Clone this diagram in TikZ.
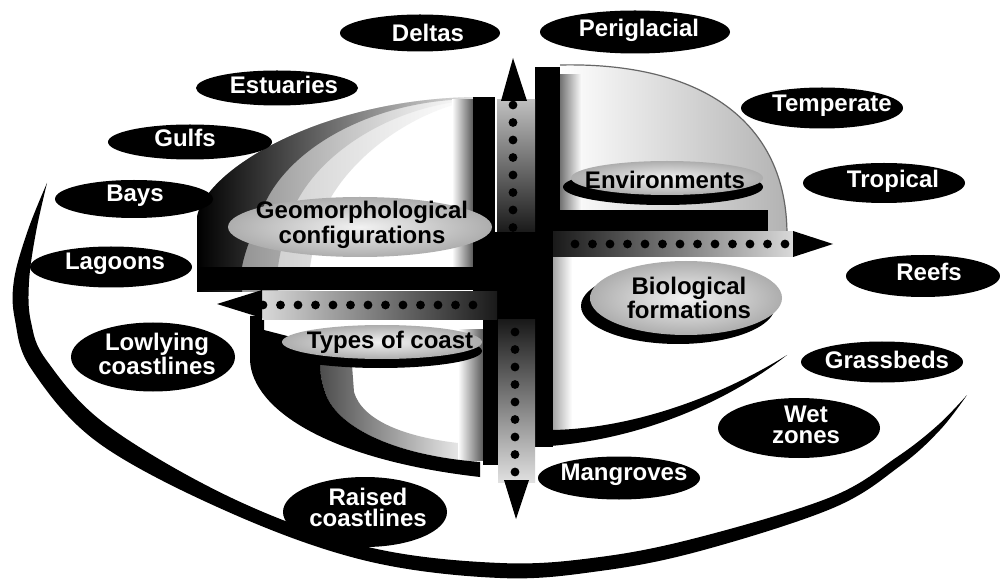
\documentclass[tikz,border=0pt]{standalone}
\usepackage{fontspec}
\setmainfont{Liberation Sans}
\begin{document}
\begin{tikzpicture}[x=0.5pt,y=-0.5pt,
  lab/.style={text=white, font=\bfseries\fontsize{12}{10.5}\selectfont, align=center, inner sep=0pt},
  inlab/.style={text=black, font=\bfseries\fontsize{12}{10.5}\selectfont, align=center, inner sep=0pt},
  blob/.style={fill=black},
  pill/.style={inner color=black!5, outer color=black!32},
  bar/.style={fill=black},
  tdot/.style={fill=black}]
\useasboundingbox (0,0) rectangle (1000,582);
\fill[white] (0,0) rectangle (1000,582);

% ---------- outer rim of the disc ----------
\fill[black] plot[smooth, tension=0.6] coordinates {(47,183) (28,230) (14,280) (15,320) (32,370) (100,444) (233,514) (367,561) (500,578) (600,571) (700,551) (833,508) (900,466) (940,430) (967,395)}
 -- plot[smooth, tension=0.6] coordinates {(967,395) (938,425) (897,457) (831,497) (700,537) (600,557) (500,563) (368,547) (236,500) (108,426) (47,361) (31,322) (29,282) (36,232) (47,183)} -- cycle;

% ---------- top-left quadrant ----------
\shade[left color=black!25, right color=white] (197,292) -- (197,217) .. controls (205,170) and (320,100) .. (473,97) -- (473,100) .. controls (410,112) and (345,160) .. (322,215) .. controls (315,235) and (312,255) .. (310,267) -- (310,292) -- cycle;
\shade[left color=black!50, right color=white] (197,292) -- (197,217) .. controls (205,170) and (320,100) .. (473,97) -- (473,100) .. controls (390,106) and (315,155) .. (292,212) .. controls (284,235) and (280,252) .. (278,267) -- (278,292) -- cycle;
\shade[left color=black, right color=black!12] (197,292) -- (197,217) .. controls (205,170) and (320,100) .. (473,97) -- (473,99) .. controls (370,100) and (285,150) .. (262,210) .. controls (252,235) and (245,250) .. (242,267) -- (242,292) -- cycle;
\shade[left color=white, right color=black!65] (452,100) rectangle (473,267);
\fill[bar] (473,97) rectangle (495,292);
\fill[bar] (197,267) rectangle (497,290);
\shade[pill] (360,227) ellipse [x radius=66pt, y radius=15pt];

% ---------- top-right quadrant ----------
\shade[left color=white, right color=black!30] (560,65) .. controls (700,62) and (787,120) .. (787,235) -- (560,235) -- cycle;
\draw[black!60, line width=0.6pt] (560,65) .. controls (700,62) and (787,120) .. (787,235);
\shade[left color=black!55, right color=white] (560,75) rectangle (582,210);
\fill[bar] (535,67) rectangle (560,235);
\fill[bar] (535,210) rectangle (768,232);
\fill[blob] (663,187) ellipse [x radius=50pt, y radius=9pt];
\shade[pill] (667,178) ellipse [x radius=48pt, y radius=8.5pt];

% ---------- bottom-right quadrant ----------
\shade[left color=black!35, right color=white] (553,257) rectangle (572,432);
\fill[bar] (535,257) rectangle (553,447);
\fill[bar] (535,430) -- (535,447) .. controls (640,442) and (730,400) .. (787,355) .. controls (728,392) and (640,428) .. (553,430) -- cycle;
\fill[blob] (678,306) ellipse [x radius=48.5pt, y radius=19pt];
\shade[pill] (686,298) ellipse [x radius=48pt, y radius=18.5pt];

% ---------- bottom-left quadrant ----------
\shade[left color=black!70, right color=white] (320,365) .. controls (320,372) and (321,380) .. (325,392) .. controls (335,425) and (390,455) .. (480,462) -- (480,445) .. controls (405,440) and (362,420) .. (354,392) -- (352,365) -- cycle;
\shade[left color=white, right color=black!65] (458,330) rectangle (483,460);
\fill[bar] (250,316) -- (250,360) .. controls (252,410) and (330,460) .. (480,477) -- (480,462) .. controls (390,455) and (335,425) .. (325,392) .. controls (321,380) and (320,372) .. (320,365) -- (322,345) -- (264,330) -- (264,316) -- cycle;
\fill[bar] (483,320) rectangle (498,465);
\fill[blob] (380,351) ellipse [x radius=51pt, y radius=8.5pt];
\shade[pill] (382,342) ellipse [x radius=50pt, y radius=8.5pt];

% ---------- arrow bands ----------
\shade[top color=black!25, bottom color=black!90] (497,100) rectangle (535,232);
\fill[bar] (495,232) rectangle (553,320);
\shade[top color=black!90, bottom color=black!12] (498,320) rectangle (535,482);
\shade[left color=black!90, right color=black!15] (553,232) rectangle (793,257);
\shade[left color=black!15, right color=black!90] (262,292) rectangle (497,320);

\foreach \y in {105,122.5,...,228} \fill[tdot] (513,\y) circle [radius=2.2pt];
\foreach \y in {332,349.5,...,473} \fill[tdot] (515,\y) circle [radius=2.2pt];
\foreach \x in {575,592.5,...,787} \fill[tdot] (\x,244) circle [radius=2.2pt];
\foreach \x in {263,280.5,...,482} \fill[tdot] (\x,305) circle [radius=2.2pt];

\coordinate (upT) at (513,58);  \coordinate (upL) at (501,101); \coordinate (upR) at (527,101);
\coordinate (dnT) at (516,519); \coordinate (dnL) at (504,480); \coordinate (dnR) at (529,480);
\coordinate (rtT) at (833,244); \coordinate (rtU) at (793,231); \coordinate (rtD) at (793,257);
\coordinate (lfT) at (217,304); \coordinate (lfU) at (262,290); \coordinate (lfD) at (262,318);
\fill (upT) -- (upL) -- (upR) -- cycle;
\fill (dnT) -- (dnL) -- (dnR) -- cycle;
\fill (rtT) -- (rtU) -- (rtD) -- cycle;
\fill (lfT) -- (lfU) -- (lfD) -- cycle;

% ---------- inner labels ----------
\node[inlab] (geo) at (362,225) {Geomorphological\\configurations};
\node[inlab] (env) at (665,180) {Environments};
\node[inlab] (bio) at (689,298) {Biological\\formations};
\node[inlab] (typ) at (390,342) {Types of coast};

% ---------- outer labels ----------
\fill[blob] (420,33) ellipse [x radius=40pt, y radius=9.25pt];
\fill[blob] (277,88) ellipse [x radius=40.5pt, y radius=8.75pt];
\fill[blob] (190,142) ellipse [x radius=41pt, y radius=8.75pt];
\fill[blob] (134,199) ellipse [x radius=39.5pt, y radius=9.5pt];
\fill[blob] (111,267) ellipse [x radius=40.5pt, y radius=10.25pt];
\fill[blob] (635,32) ellipse [x radius=47.5pt, y radius=10.75pt];
\fill[blob] (822,108) ellipse [x radius=40.5pt, y radius=10.25pt];
\fill[blob] (884,183) ellipse [x radius=40.5pt, y radius=10pt];
\fill[blob] (923,276) ellipse [x radius=38.5pt, y radius=10.5pt];
\fill[blob] (882,362) ellipse [x radius=40.5pt, y radius=10.25pt];
\fill[blob] (799,428) ellipse [x radius=40.5pt, y radius=15pt];
\fill[blob] (619,478) ellipse [x radius=40.5pt, y radius=10.75pt];
\fill[blob] (153,357) ellipse [x radius=41pt, y radius=17.25pt];
\fill[blob] (365,512) ellipse [x radius=41pt, y radius=17.5pt];

\node[lab] (deltas) at (428,33) {Deltas};
\node[lab] (estuaries) at (284,85) {Estuaries};
\node[lab] (gulfs) at (185,138) {Gulfs};
\node[lab] (bays) at (135,196) {Bays};
\node[lab] (lagoons) at (115,264) {Lagoons};
\node[lab] (peri) at (639,30) {Periglacial};
\node[lab] (temp) at (832,106) {Temperate};
\node[lab] (trop) at (893,181) {Tropical};
\node[lab] (reefs) at (929,272) {Reefs};
\node[lab] (grass) at (887,360) {Grassbeds};
\node[lab] (wet) at (806,425) {Wet\\zones};
\node[lab] (mang) at (624,475) {Mangroves};
\node[lab] (low) at (157,354) {Lowlying\\coastlines};
\node[lab] (raised) at (368,507) {Raised\\coastlines};
\end{tikzpicture}
\end{document}
